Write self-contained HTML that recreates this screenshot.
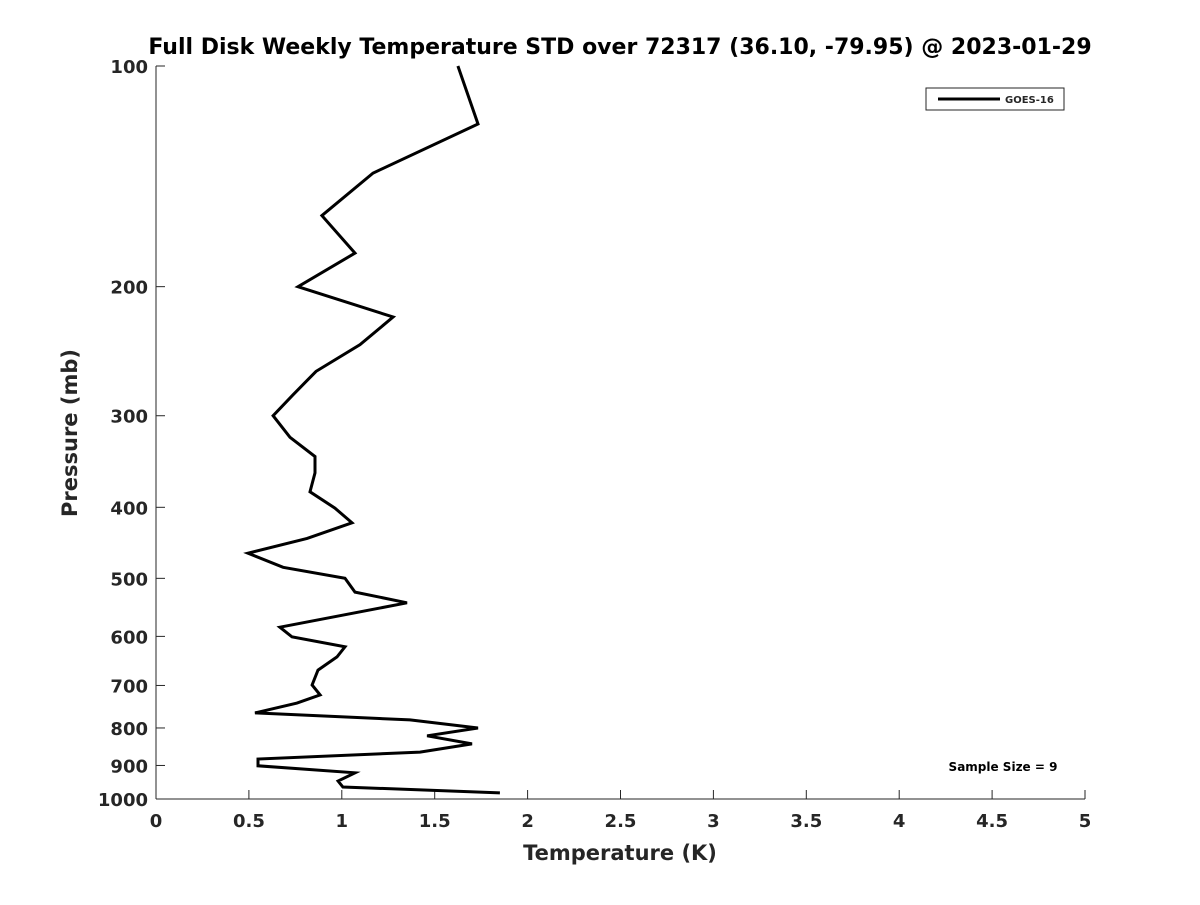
<!DOCTYPE html>
<html><head><meta charset="utf-8"><style>
body{margin:0;background:#fff;}
svg text{font-family:"DejaVu Sans","Liberation Sans",sans-serif;font-weight:bold;fill:#262626;}
</style></head><body>
<svg id="chart" width="1200" height="900" xmlns="http://www.w3.org/2000/svg">
<rect width="1200" height="900" fill="#fff"/>
<text x="620" y="54" text-anchor="middle" font-size="22" style="fill:#000">Full Disk Weekly Temperature STD over 72317 (36.10, -79.95) @ 2023-01-29</text>
<g id="axes"></g>
<text x="620" y="860" text-anchor="middle" font-size="21">Temperature (K)</text>
<text transform="translate(77,433) rotate(-90)" text-anchor="middle" font-size="21">Pressure (mb)</text>
<g>
<rect x="926" y="88" width="138" height="22" fill="#fff" stroke="#262626" stroke-width="1"/>
<line x1="938" y1="99" x2="1000" y2="99" stroke="#000" stroke-width="3"/>
<text x="1005" y="103" font-size="10">GOES-16</text>
</g>
<text x="1003" y="771" text-anchor="middle" font-size="12" style="fill:#000">Sample Size = 9</text>
</svg>
<script>
const temps=[1.625,1.733,1.168,0.893,1.071,0.764,1.276,1.098,0.861,0.737,0.630,0.721,0.856,0.856,0.829,0.963,1.055,0.813,0.495,0.684,1.017,1.071,1.351,0.667,0.732,1.017,0.974,0.872,0.840,0.883,0.759,0.533,1.367,1.733,1.459,1.701,1.421,0.549,0.549,1.071,0.980,1.006,1.851];
const pressures=[100,120,140,160,180,200,220,240,261,281,300,321,341,359,381,401,420,441,462,483,500,522,540,583,601,620,640,667,699,721,740,763,780,800,820,841,863,882,901,921,945,963,981];
const xTicks=[0,0.5,1,1.5,2,2.5,3,3.5,4,4.5,5];
const yTicks=[100,200,300,400,500,600,700,800,900,1000];
const X0=156,X1=1085,Y0=66,Y1=799;
function xs(v){return X0+(v-0)/(5-0)*(X1-X0);}
function ys(p){return Y0+(Math.log10(p)-2)*(Y1-Y0);}
const NS="http://www.w3.org/2000/svg";
const svg=document.getElementById('chart');
const g=document.getElementById('axes');
function mk(t,a,parent){const e=document.createElementNS(NS,t);for(const k in a)e.setAttribute(k,a[k]);(parent||g).appendChild(e);return e;}
const xa=mk('line',{x1:X0,y1:Y1,x2:X1,y2:Y1,stroke:'#262626','stroke-width':1});


const ya=mk('line',{x1:X0,y1:Y0,x2:X0,y2:Y1,stroke:'#262626','stroke-width':1});


xTicks.forEach(v=>{
 const x=xs(v);
 const t=mk('line',{x1:x,y1:Y1,x2:x,y2:Y1-9,stroke:'#262626'});
 
 
 const l=mk('text',{x:x,y:Y1+28,'text-anchor':'middle','font-size':18});
 
 
 l.textContent=String(v);
});
yTicks.forEach(p=>{
 const y=ys(p);
 const t=mk('line',{x1:X0,y1:y,x2:X0+9,y2:y,stroke:'#262626'});
 
 
 const l=mk('text',{x:X0-8,y:y+7,'text-anchor':'end','font-size':18});
 
 
 l.textContent=String(p);
});
const pts=temps.map((t,i)=>xs(t).toFixed(1)+','+ys(pressures[i]).toFixed(1)).join(' ');
const line=mk('polyline',{points:pts,fill:'none',stroke:'#000','stroke-width':3,'stroke-linejoin':'miter'},svg);


</script>
</body></html>
